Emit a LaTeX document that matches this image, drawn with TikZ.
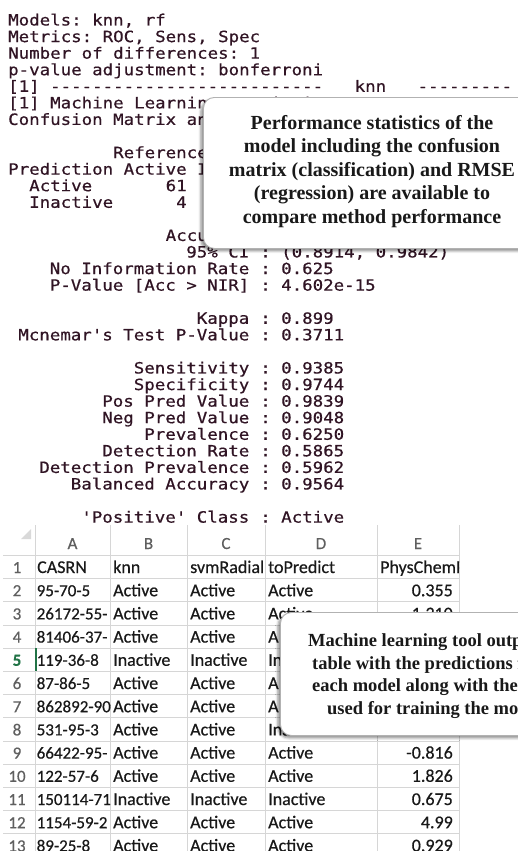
\documentclass[tikz,border=0pt]{standalone}
\usepackage{fontspec}
\setmonofont{DejaVu Sans Mono}[FakeStretch=1.125, FakeBold=0.6]
\newfontfamily\notefont{Liberation Serif}
\newfontfamily\sheetfont{Carlito}[FakeBold=0.5]
\usetikzlibrary{shadows.blur}

\definecolor{rtext}{RGB}{48,20,36}
\definecolor{gridgray}{RGB}{214,214,214}
\definecolor{hdrgray}{RGB}{95,95,95}
\definecolor{xlgreen}{RGB}{33,115,70}

\tikzset{
  contxt/.style={anchor=base west, inner sep=0pt, text=rtext,
    font=\ttfamily\fontsize{15.5}{16}\selectfont},
  conlab/.style={contxt, anchor=base east},
  callout/.style={draw=gray!60, line width=0.9pt, fill=white,
    rounded corners=11pt, anchor=north west, inner sep=0pt,
    blur shadow={shadow xshift=-2.5pt, shadow yshift=-2.5pt,
      shadow blur radius=2.5pt, shadow opacity=45}},
  notetxt/.style={inner sep=0pt, text=black!90, align=center,
    font=\notefont\bfseries\fontsize{20}{23.5}\selectfont},
  mltxt/.style={anchor=base west, inner sep=0pt, text=black!90,
    font=\notefont\bfseries\fontsize{18.5}{22.5}\selectfont},
  gridline/.style={draw=gridgray, line width=0.8pt},
  cell/.style={anchor=base west, inner sep=0pt, text=black!90,
    font=\sheetfont\fontsize{18}{18}\selectfont},
  idcell/.style={cell, font=\sheetfont\fontsize{17}{17}\selectfont},
  numcell/.style={cell, anchor=base east},
  hdr/.style={anchor=base, inner sep=0pt, text=hdrgray,
    font=\sheetfont\fontsize{17}{17}\selectfont},
}

% console text: column, line, text
\newcommand\conat[3]{\node[contxt] (con-#2-#1) at ({8+#1*10.5},{25.5+#2*16.57}) {#3};}

\begin{document}
\begin{tikzpicture}[x=1pt,y=-1pt]
\useasboundingbox (0,0) rectangle (518,851);
\clip (0,0) rectangle (518,851);

% --- R console output ---
\conat{0}{0}{Models: knn, rf}
\conat{0}{1}{Metrics: ROC, Sens, Spec}
\conat{0}{2}{Number of differences: 1}
\conat{0}{3}{p-value adjustment: bonferroni}
\conat{0}{4}{[1] --------------------------}
\conat{33}{4}{knn}
\conat{39}{4}{---------}
\conat{0}{5}{[1] Machine Learning statistics}
\conat{0}{6}{Confusion Matrix an}
\conat{10}{8}{Reference}
\conat{0}{9}{Prediction Active I}
\conat{2}{10}{Active}
\conat{15}{10}{61}
\conat{2}{11}{Inactive}
\conat{16}{11}{4}
\conat{15}{13}{Accur}

\foreach \ln/\lab/\val in {14/95\% CI/{(0.8914, 0.9842)},
    15/No Information Rate/0.625, 16/{P-Value [Acc > NIR]}/4.602e-15,
    18/Kappa/0.899, 19/Mcnemar's Test P-Value/0.3711,
    21/Sensitivity/0.9385, 22/Specificity/0.9744, 23/Pos Pred Value/0.9839,
    24/Neg Pred Value/0.9048, 25/Prevalence/0.6250, 26/Detection Rate/0.5865,
    27/Detection Prevalence/0.5962, 28/Balanced Accuracy/0.9564,
    30/'Positive' Class/Active}
{
  \node[conlab] (lab-\ln) at (249.5,{25.5+\ln*16.57}) {\lab};
  \node[contxt] (val-\ln) at (260,{25.5+\ln*16.57}) {: \val};
}

% --- spreadsheet ---
\foreach \k in {0,...,12}
  \draw[gridline] (3,{555.4+23.2*\k}) -- (459,{555.4+23.2*\k});
\foreach \xv in {35,110,187,265,377,459}
  \draw[gridline] (\xv,525) -- (\xv,851);
\fill[gray!30] (21,539) -- (31,539) -- (31,529) -- cycle;

\foreach \c/\xc in {A/72.5,B/148.5,C/226,D/321,E/418}
  \node[hdr] (col-\c) at (\xc,549) {\c};
\foreach \r in {1,2,3,4,6,7,8,9,10,11,12,13}
  \node[hdr] (row-\r) at (17,{573+23.2*(\r-1)}) {\r};
\node[hdr, text=xlgreen, font=\sheetfont\bfseries\fontsize{17}{17}\selectfont]
  (row-5) at (17,{573+23.2*4}) {5};
\draw[xlgreen, line width=2pt] (36,{555.4+23.2*4}) -- (36,{555.4+23.2*5});

\node[cell] (a-1) at (37,573) {CASRN};
\foreach \r/\cas in {2/95-70-5, 3/26172-55-, 4/81406-37-,
    5/119-36-8, 6/87-86-5, 7/862892-90, 8/531-95-3, 9/66422-95-,
    10/122-57-6, 11/150114-71, 12/1154-59-2, 13/89-25-8}
  \node[idcell] (a-\r) at (36.5,{573+23.2*(\r-1)}) {\cas};

\foreach \r/\cb/\cc/\cd in {1/knn/svmRadial/toPredict,
    2/Active/Active/Active, 3/Active/Active/Active, 4/Active/Active/A,
    5/Inactive/Inactive/In, 6/Active/Active/A,
    7/Active/Active/A, 8/Active/Active/Ina, 9/Active/Active/Active,
    10/Active/Active/Active, 11/Inactive/Inactive/Inactive,
    12/Active/Active/Active, 13/Active/Active/Active}
{
  \node[cell] (b-\r) at (113,{573+23.2*(\r-1)}) {\cb};
  \node[cell] (c-\r) at (190,{573+23.2*(\r-1)}) {\cc};
  \node[cell] (d-\r) at (268,{573+23.2*(\r-1)}) {\cd};
}

\begin{scope}
  \clip (377,555) rectangle (459,580);
  \node[cell] (e-1) at (380,573) {PhysChemProp};
\end{scope}
\foreach \r/\ce in {2/0.355, 3/1.310, 9/-0.816, 10/1.826, 11/0.675,
    12/4.99, 13/0.929}
  \node[numcell] (e-\r) at (453,{573+23.2*(\r-1)}) {\ce};

% --- callouts ---
\node[callout, minimum width=345pt, minimum height=151pt] (perfbox) at (203,97) {};
\node[notetxt] (perftxt) at (372,171.5)
  {Performance statistics of the\\
   model including the confusion\\
   matrix (classification) and RMSE\\
   (regression) are available to\\
   compare method performance};

\node[callout, minimum width=265pt, minimum height=123pt] (mlbox) at (280,612) {};
\foreach \i/\xl/\t in {0/308/Machine learning tool output,
    1/312/table with the predictions for,
    2/312/each model along with the data,
    3/327/used for training the model}
  \node[mltxt] (ml-\i) at (\xl,{646.5+22.5*\i}) {\t};

\end{tikzpicture}
\end{document}
